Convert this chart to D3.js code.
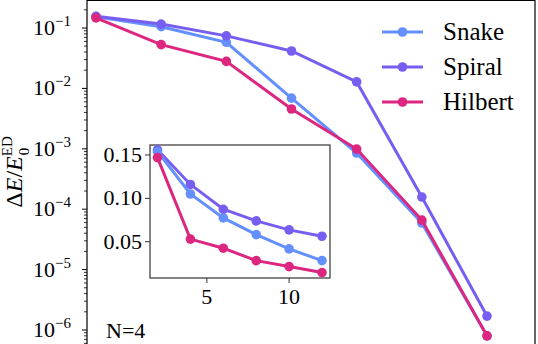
<!DOCTYPE html>
<html>
<head>
<meta charset="utf-8">
<script src="https://cdn.jsdelivr.net/npm/d3@7"></script>
</head>
<body style="margin:0">
<svg id="chart" width="538" height="344"></svg>
<script>
(function(){
    var width = 538;
    var height = 344;

    // main panel: bond dimension (log2) vs relative energy error
    var chi = [2, 4, 8, 16, 32, 64, 128];
    var snakeMain = [0.154, 0.105, 0.058, 0.0069, 0.00085, 0.000059, 0.0000008];
    var spiralMain = [0.156, 0.116, 0.074, 0.0416, 0.0128, 0.000159, 0.0000017];
    var hilbertMain = [0.147, 0.053, 0.028, 0.00456, 0.00099, 0.000066, 0.0000008];

    // inset: linear axes
    var insetX = [2, 4, 6, 8, 10, 12];
    var snakeInset = [0.154, 0.105, 0.0774, 0.0582, 0.0417, 0.0282];
    var spiralInset = [0.156, 0.116, 0.0874, 0.0740, 0.0636, 0.0563];
    var hilbertInset = [0.147, 0.053, 0.0425, 0.0282, 0.0213, 0.0144];

    var names = ["Snake", "Spiral", "Hilbert"];
    var colors = ["#648FFF", "#785EF0", "#DC267F"];
    var mainTicks = [1e-1, 1e-2, 1e-3, 1e-4, 1e-5, 1e-6];
    var mainTickExp = ["\u22121", "\u22122", "\u22123", "\u22124", "\u22125", "\u22126"];
    var insetYTicks = [0.05, 0.10, 0.15];
    var insetXTicks = [5, 10];

    var serif = "Liberation Serif";

    var svg = d3.select("#chart");

    var x = d3.scaleLog().base(2).domain([2, 128]).range([96, 487]);
    var y = d3.scaleLog().domain([1e-1, 1e-6]).range([28, 330]);

    var left = 87, right = 535, top = 0.5;

    // minor ticks
    var minor = [];
    for (var e = -7; e <= 0; e++) {
      for (var m = 2; m <= 9; m++) minor.push(m * Math.pow(10, e));
    }
    minor = minor.filter(function(v){ return y(v) > 0 && y(v) < height; });

    svg.append("g").selectAll("line")
      .data(minor)
      .enter().append("line")
      .attr("x1", left - 3).attr("x2", left)
      .attr("y1", function(d){ return y(d); })
      .attr("y2", function(d){ return y(d); })
      .attr("stroke", "#000").attr("stroke-width", 0.8);

    svg.append("g").selectAll("line")
      .data(mainTicks)
      .enter().append("line")
      .attr("x1", left - 5).attr("x2", left)
      .attr("y1", function(d){ return y(d); })
      .attr("y2", function(d){ return y(d); })
      .attr("stroke", "#000").attr("stroke-width", 1);

    var lab = svg.append("g").selectAll("text")
      .data(mainTicks)
      .enter().append("text")
      .attr("x", 33)
      .attr("y", function(d){ return y(d) + 7; })
      .attr("font-family", serif)
      .attr("font-size", 22);
    lab.append("tspan").text("10");
    lab.append("tspan")
      .attr("dy", -9)
      .attr("font-size", 15)
      .text(function(d, i){ return mainTickExp[i]; });

    // frame (bottom edge is cut off)
    svg.append("path")
      .attr("d", "M" + left + "," + (height + 5) + "V" + top + "H" + right + "V" + (height + 5))
      .attr("fill", "none").attr("stroke", "#000").attr("stroke-width", 1.2);

    // y label
    var yl = svg.append("text")
      .attr("transform", "translate(22,172) rotate(-90)")
      .attr("text-anchor", "middle")
      .attr("font-family", serif)
      .attr("font-size", 24);
    yl.append("tspan").text("\u0394");
    yl.append("tspan").attr("font-style", "italic").text("E");
    yl.append("tspan").text("/");
    yl.append("tspan").attr("font-style", "italic").text("E");
    yl.append("tspan").attr("dy", -10).attr("font-size", 15).text("ED");
    yl.append("tspan").attr("dx", -19).attr("dy", 17).attr("font-size", 15).text("0");

    var mainSeries = [snakeMain, spiralMain, hilbertMain];
    var line = d3.line()
      .x(function(d, i){ return x(chi[i]); })
      .y(function(d){ return y(d); });

    mainSeries.forEach(function(s, k){
      var g = svg.append("g");
      g.append("path")
        .attr("d", line(s))
        .attr("fill", "none")
        .attr("stroke", colors[k])
        .attr("stroke-width", 3);
      g.selectAll("circle")
        .data(s)
        .enter().append("circle")
        .attr("cx", function(d, i){ return x(chi[i]); })
        .attr("cy", function(d){ return y(d); })
        .attr("r", 4.8)
        .attr("fill", colors[k]);
    });

    // legend
    var leg = svg.append("g").selectAll("g")
      .data(names)
      .enter().append("g")
      .attr("transform", function(d, i){ return "translate(0," + (32 + i * 35) + ")"; });
    leg.append("line")
      .attr("x1", 382).attr("x2", 423)
      .attr("stroke", function(d, i){ return colors[i]; })
      .attr("stroke-width", 3);
    leg.append("circle")
      .attr("cx", 402.5).attr("r", 4.8)
      .attr("fill", function(d, i){ return colors[i]; });
    leg.append("text")
      .attr("x", 443).attr("y", 8)
      .attr("font-family", serif)
      .attr("font-size", 25)
      .text(function(d){ return d; });

    // N=4 label
    svg.append("text")
      .attr("x", 106).attr("y", 338)
      .attr("font-family", serif)
      .attr("font-size", 22)
      .text("N=4");

    // inset
    var ix = d3.scaleLinear().domain([2, 12]).range([157.5, 322]);
    var iy = d3.scaleLinear().domain([0.15, 0.05]).range([155, 241.7]);
    var ileft = 150, iright = 330, itop = 145, ibottom = 278;

    svg.append("rect")
      .attr("x", ileft).attr("y", itop)
      .attr("width", iright - ileft).attr("height", ibottom - itop)
      .attr("fill", "#fff").attr("stroke", "#333").attr("stroke-width", 1.2);

    svg.append("g").selectAll("line")
      .data(insetYTicks)
      .enter().append("line")
      .attr("x1", ileft - 5).attr("x2", ileft)
      .attr("y1", function(d){ return iy(d); })
      .attr("y2", function(d){ return iy(d); })
      .attr("stroke", "#333");
    svg.append("g").selectAll("text")
      .data(insetYTicks)
      .enter().append("text")
      .attr("x", ileft - 8)
      .attr("y", function(d){ return iy(d) + 7; })
      .attr("text-anchor", "end")
      .attr("font-family", serif)
      .attr("font-size", 22)
      .text(function(d){ return d3.format(".2f")(d); });

    svg.append("g").selectAll("line")
      .data(insetXTicks)
      .enter().append("line")
      .attr("x1", function(d){ return ix(d); })
      .attr("x2", function(d){ return ix(d); })
      .attr("y1", ibottom).attr("y2", ibottom + 5)
      .attr("stroke", "#333");
    svg.append("g").selectAll("text")
      .data(insetXTicks)
      .enter().append("text")
      .attr("x", function(d){ return ix(d); })
      .attr("y", ibottom + 26)
      .attr("text-anchor", "middle")
      .attr("font-family", serif)
      .attr("font-size", 22)
      .text(function(d){ return d; });

    var insetSeries = [snakeInset, spiralInset, hilbertInset];
    var iline = d3.line()
      .x(function(d, i){ return ix(insetX[i]); })
      .y(function(d){ return iy(d); });

    // spiral first so snake sits on top like the reference
    [1, 0, 2].forEach(function(k){
      var s = insetSeries[k];
      var g = svg.append("g");
      g.append("path")
        .attr("d", iline(s))
        .attr("fill", "none")
        .attr("stroke", colors[k])
        .attr("stroke-width", 3);
      g.selectAll("circle")
        .data(s)
        .enter().append("circle")
        .attr("cx", function(d, i){ return ix(insetX[i]); })
        .attr("cy", function(d){ return iy(d); })
        .attr("r", 4.8)
        .attr("fill", colors[k]);
    });
})();
</script>
</body>
</html>
